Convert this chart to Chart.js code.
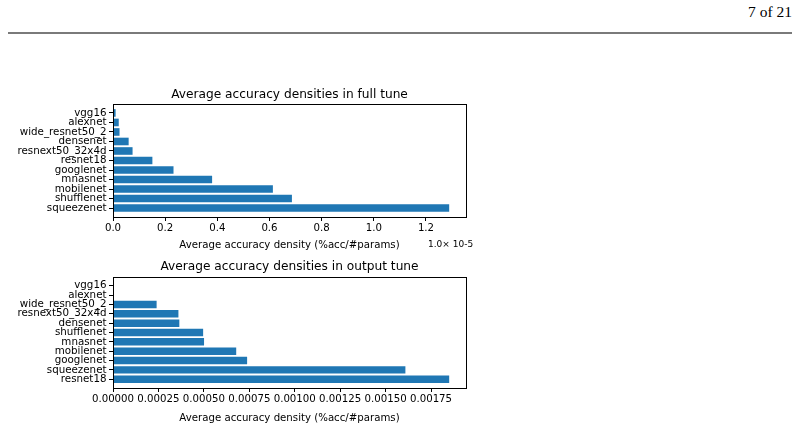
<!DOCTYPE html>
<html>
<head>
<meta charset="utf-8">
<script src="https://cdn.jsdelivr.net/npm/chart.js@4/dist/chart.umd.min.js"></script>
<style>
  html, body { margin: 0; padding: 0; background: #fff; }
  #page { position: relative; width: 799px; height: 431px; overflow: hidden; background: #fff; }
  #pageNum { position: absolute; right: 7px; top: 3px; font: 15.5px "Liberation Serif", "DejaVu Serif", serif; color: #000; }
  #rule { position: absolute; left: 8px; top: 32px; width: 784px; height: 1.5px; background: #7a7a7a; }
  .box { position: absolute; left: 0; width: 480px; height: 170px; }
</style>
</head>
<body>
<div id="page">
  <div id="pageNum">7 of 21</div>
  <div id="rule"></div>
  <div class="box" style="top:84px"><canvas id="fullChart" width="480" height="170"></canvas></div>
  <div class="box" style="top:257px"><canvas id="outChart" width="480" height="170"></canvas></div>
</div>
<script>
// full tune, values in units of 1e-5 (bottom bar first, like matplotlib barh)
const fullNames = ['squeezenet', 'shufflenet', 'mobilenet', 'mnasnet', 'googlenet', 'resnet18',
  'resnext50_32x4d', 'densenet', 'wide_resnet50_2', 'alexnet', 'vgg16'];
const fullValues = [1.289, 0.686, 0.613, 0.380, 0.232, 0.151, 0.075, 0.060, 0.025, 0.022, 0.010];
const fullTicks = [0, 0.2, 0.4, 0.6, 0.8, 1.0, 1.2];
const fullTickLabels = ['0.0', '0.2', '0.4', '0.6', '0.8', '1.0', '1.2'];

// output tune
const outNames = ['resnet18', 'squeezenet', 'googlenet', 'mobilenet', 'mnasnet', 'shufflenet',
  'densenet', 'resnext50_32x4d', 'wide_resnet50_2', 'alexnet', 'vgg16'];
const outValues = [0.001850, 0.001609, 0.000738, 0.000678, 0.000501, 0.000496,
  0.000365, 0.000360, 0.000240, 0, 0];
const outTicks = [0, 0.00025, 0.0005, 0.00075, 0.001, 0.00125, 0.0015, 0.00175];
const outTickLabels = ['0.00000', '0.00025', '0.00050', '0.00075', '0.00100', '0.00125', '0.00150', '0.00175'];

const BLUE = '#1f77b4';
const FONT = 'DejaVu Sans';

// closed frame around the plot area + title centred over it + offset text
const decorPlugin = {
  id: 'decor',
  afterDraw(chart, args, opts) {
    const a = chart.chartArea, c = chart.ctx;
    c.save();
    c.strokeStyle = '#000';
    c.lineWidth = 1;
    c.strokeRect(Math.round(a.left) + 0.5, Math.round(a.top) + 0.5,
      Math.round(a.right - a.left), Math.round(a.bottom - a.top));
    c.fillStyle = '#000';
    c.textBaseline = 'middle';
    c.textAlign = 'center';
    c.font = '12.2px ' + FONT;
    c.fillText(opts.title, (a.left + a.right) / 2, opts.titleY);
    if (opts.offset) {
      c.textAlign = 'left';
      c.font = '9px ' + FONT;
      c.fillText(opts.offset, 428, opts.offsetY);
    }
    c.restore();
  }
};

function makeChart(id, title, names, values, ticks, tickLabels, xMax, axisH, titleY, offset) {
  const points = values.map((v, i) => ({ x: v, y: i }));
  return new Chart(document.getElementById(id), {
    type: 'bar',
    data: {
      datasets: [{
        data: points,
        backgroundColor: BLUE,
        borderWidth: 0,
        barPercentage: 0.8,
        categoryPercentage: 1.0
      }]
    },
    options: {
      indexAxis: 'y',
      responsive: false,
      animation: false,
      layout: { padding: { top: 20, right: 14, bottom: 0, left: 0 } },
      plugins: {
        legend: { display: false },
        tooltip: { enabled: false },
        title: { display: false },
        decor: { title: title, titleY: titleY, offset: offset, offsetY: 161 }
      },
      scales: {
        x: {
          type: 'linear', min: 0, max: xMax,
          afterBuildTicks: s => { s.ticks = ticks.map(v => ({ value: v })); },
          afterFit: s => { s.height = axisH; },
          ticks: {
            color: '#000', font: { family: FONT, size: 10.2 }, padding: 1.5,
            maxRotation: 0, autoSkip: false,
            callback: (v, i) => tickLabels[i]
          },
          grid: { drawOnChartArea: false, drawTicks: true, tickLength: 4, color: '#000' },
          border: { display: false },
          title: {
            display: true, text: 'Average accuracy density (%acc/#params)', color: '#000',
            font: { family: FONT, size: 10.2 }, padding: { top: 0, bottom: 3 }
          }
        },
        y: {
          type: 'linear', offset: false, min: -0.94, max: names.length - 1 + 0.94,
          afterBuildTicks: s => { s.ticks = names.map((n, i) => ({ value: i })); },
          afterFit: s => { s.width = 113; },
          ticks: {
            color: '#000', font: { family: FONT, size: 10.3 }, padding: 2.5,
            autoSkip: false,
            callback: v => names[v]
          },
          grid: { drawOnChartArea: false, drawTicks: true, tickLength: 4, color: '#000', offset: false },
          border: { display: false }
        }
      }
    },
    plugins: [decorPlugin]
  });
}

makeChart('fullChart', 'Average accuracy densities in full tune',
  fullNames, fullValues, fullTicks, fullTickLabels, 1.289 * 1.05, 37, 11, '1.0\u00d7 10-5');
makeChart('outChart', 'Average accuracy densities in output tune',
  outNames, outValues, outTicks, outTickLabels, 0.001850 * 1.05, 39, 10, '');
</script>
</body>
</html>
